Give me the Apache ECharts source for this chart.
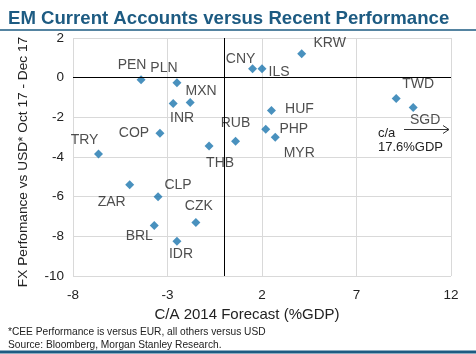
<!DOCTYPE html>
<html lang="en">
<head>
    <meta charset="UTF-8">
    <title>EM Current Accounts versus Recent Performance</title>
    <style type="text/css">
        html, body { margin: 0; padding: 0; background: #fff; }
        #main { width: 476px; height: 354px; }
    </style>
</head>
<body>
    <div id="main"></div>
    <script src="https://cdn.jsdelivr.net/npm/echarts@6/dist/echarts.min.js"></script>
    <script type="text/javascript">
        // currency codes, C/A 2014 forecast (%GDP), FX performance Oct 17 - Dec 17 (%)
        var codes = ['PEN', 'PLN', 'MXN', 'INR', 'COP', 'TRY', 'THB', 'RUB', 'CNY', 'ILS', 'KRW',
            'HUF', 'PHP', 'MYR', 'TWD', 'SGD', 'ZAR', 'CLP', 'CZK', 'BRL', 'IDR'];
        var caForecast = [-4.4, -2.5, -1.8, -2.7, -3.4, -6.65, -0.8, 0.6, 1.5, 2.0, 4.1,
            2.5, 2.2, 2.7, 9.1, 10.0, -5.0, -3.5, -1.5, -3.7, -2.5];
        var fxPerf = [-0.1, -0.25, -1.25, -1.3, -2.8, -3.85, -3.45, -3.2, 0.45, 0.45, 1.2,
            -1.65, -2.6, -3.0, -1.05, -1.5, -5.4, -6.0, -7.3, -7.45, -8.25];
        var xTicks = [-8, -3, 2, 7, 12];
        var yTicks = [-10, -8, -6, -4, -2, 0, 2];

        // where each label sits relative to its point (px)
        var labelOffset = {
            PEN: [-9, -15], PLN: [-13, -14], MXN: [11, -11], INR: [9, 15], COP: [-26, 0],
            TRY: [-14, -14], THB: [11, 17], RUB: [0, -18], CNY: [-12, -10], ILS: [17, 3],
            KRW: [28, -11], HUF: [28, -1], PHP: [28, 0], MYR: [24, 16], TWD: [22, -14],
            SGD: [12, 13], ZAR: [-18, 17], CLP: [20, -12], CZK: [3, -16], BRL: [-15, 11],
            IDR: [4, 13]
        };

        var points = [];
        for (var i = 0; i < codes.length; i++) {
            points.push({
                name: codes[i],
                value: [caForecast[i], fxPerf[i]],
                label: { offset: labelOffset[codes[i]] }
            });
        }

        var font = 'Liberation Sans, Arial, sans-serif';
        var blue = '#1d5b82';

        var myChart = echarts.init(document.getElementById('main'));
        var option = {
            animation: false,
            title: {
                text: 'EM Current Accounts versus Recent Performance',
                left: 3,
                top: 4,
                textStyle: { fontFamily: font, fontSize: 18.6, fontWeight: 'bold', color: blue }
            },
            grid: { left: 73, right: 25, top: 38, bottom: 78 },
            xAxis: {
                type: 'value',
                min: -8, max: 12, interval: 5,
                name: 'C/A 2014 Forecast (%GDP)',
                nameLocation: 'middle',
                nameGap: 30,
                nameTextStyle: { fontFamily: font, fontSize: 15, color: '#222', padding: [0, 30, 0, 0] },
                axisLine: { show: false },
                axisTick: { show: false },
                axisLabel: {
                    fontFamily: font, fontSize: 13.5, color: '#222', margin: 12,
                    customValues: xTicks
                },
                splitLine: { show: true, lineStyle: { color: '#d9d9d9', width: 1 } }
            },
            yAxis: {
                type: 'value',
                min: -10, max: 2, interval: 2,
                name: 'FX Perfomance vs USD* Oct 17 - Dec 17',
                nameLocation: 'middle',
                nameGap: 43,
                nameTextStyle: { fontFamily: font, fontSize: 13.7, color: '#222', padding: [0, 10, 0, 0] },
                axisLine: { show: false },
                axisTick: { show: false },
                axisLabel: {
                    fontFamily: font, fontSize: 13.5, color: '#222', margin: 9,
                    customValues: yTicks
                },
                splitLine: { show: true, lineStyle: { color: '#d9d9d9', width: 1 } }
            },
            series: [{
                type: 'scatter',
                symbol: 'diamond',
                symbolSize: 9,
                itemStyle: { color: '#1b76ae' },
                label: {
                    show: true,
                    position: 'inside',
                    formatter: '{b}',
                    fontFamily: font,
                    fontSize: 14,
                    color: '#222'
                },
                data: points,
                markLine: {
                    silent: true,
                    symbol: ['none', 'none'],
                    label: { show: false },
                    lineStyle: { color: '#000', width: 1, type: 'solid' },
                    data: [{ xAxis: 0 }, { yAxis: 0 }]
                }
            }],
            graphic: [
                { type: 'line', shape: { x1: 0, y1: 30, x2: 476, y2: 30 }, style: { stroke: blue, lineWidth: 1.5 } },
                { type: 'line', shape: { x1: 0, y1: 352, x2: 476, y2: 352 }, style: { stroke: blue, lineWidth: 3 } },
                { type: 'line', shape: { x1: 404, y1: 129.5, x2: 449, y2: 129.5 }, style: { stroke: '#333', lineWidth: 1 } },
                { type: 'polyline', shape: { points: [[443, 125.5], [449, 129.5], [443, 133.5]] }, style: { stroke: '#333', lineWidth: 1, fill: null } },
                { type: 'text', left: 378, top: 127, style: { text: 'c/a', font: '13px ' + font, fill: '#222' } },
                { type: 'text', left: 378, top: 141, style: { text: '17.6%GDP', font: '13px ' + font, fill: '#222' } },
                { type: 'text', left: 8, top: 327, style: { text: '*CEE Performance is versus EUR, all others versus USD', font: '10.2px ' + font, fill: '#222' } },
                { type: 'text', left: 8, top: 340, style: { text: 'Source: Bloomberg, Morgan Stanley Research.', font: '10.2px ' + font, fill: '#222' } }
            ]
        };
        myChart.setOption(option);
    </script>
</body>
</html>
